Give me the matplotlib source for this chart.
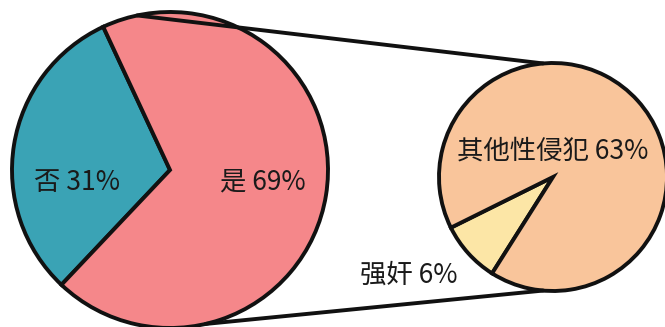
import matplotlib.pyplot as plt
import numpy as np

plt.rcParams['font.family'] = ['Noto Sans CJK SC', 'DejaVu Sans']

# 主饼图：是否遭受性侵犯
main_labels = ['否', '是']
main_values = [31, 69]
main_colors = ['#3aa3b5', '#f5878a']

# 子饼图：具体类型
sub_labels = ['强奸', '其他性侵犯']
sub_values = [6, 63]
sub_colors = ['#fce6a6', '#f9c59b']

W, H = 665, 327
fig = plt.figure(figsize=(W / 100, H / 100), dpi=100)
ax = fig.add_axes([0, 0, 1, 1])

edge = dict(edgecolor='#111111', linewidth=2.8)

# 主饼
c1, r1 = (170, 157), 158
ax.pie(main_values, colors=main_colors, startangle=115, counterclock=True,
       center=c1, radius=r1, wedgeprops=edge, frame=True)

# 子饼
c2, r2 = (553, 150), 114
ax.pie(sub_values, colors=sub_colors, startangle=206.4, counterclock=True,
       center=c2, radius=r2, wedgeprops=edge, frame=True)

ax.set_xlim(0, W)
ax.set_ylim(0, H)
ax.set_aspect('equal')
ax.axis('off')

# 连接线
def pt(c, r, ang):
    a = np.deg2rad(ang)
    return c[0] + r * np.cos(a), c[1] + r * np.sin(a)

x0, y0 = pt(c1, r1, 102)
x1, y1 = pt(c2, r2, 95)
ax.plot([x0, x1], [y0, y1], color='#111111', lw=2.8, solid_capstyle='round')
x0, y0 = pt(c1, r1, 283)
x1, y1 = pt(c2, r2, 265)
ax.plot([x0, x1], [y0, y1], color='#111111', lw=2.8, solid_capstyle='round')

tc = '#1a1a1a'
fs = 19
ax.text(77, 145, f'{main_labels[0]} {main_values[0]}%', fontsize=fs, color=tc,
        ha='center', va='center')
ax.text(263, 145, f'{main_labels[1]} {main_values[1]}%', fontsize=fs, color=tc,
        ha='center', va='center')
ax.text(553, 176, f'{sub_labels[1]} {sub_values[1]}%', fontsize=fs, color=tc,
        ha='center', va='center')
ax.text(409, 52, f'{sub_labels[0]} {sub_values[0]}%', fontsize=fs, color=tc,
        ha='center', va='center')

fig.savefig('out.png', dpi=100, facecolor='white')
